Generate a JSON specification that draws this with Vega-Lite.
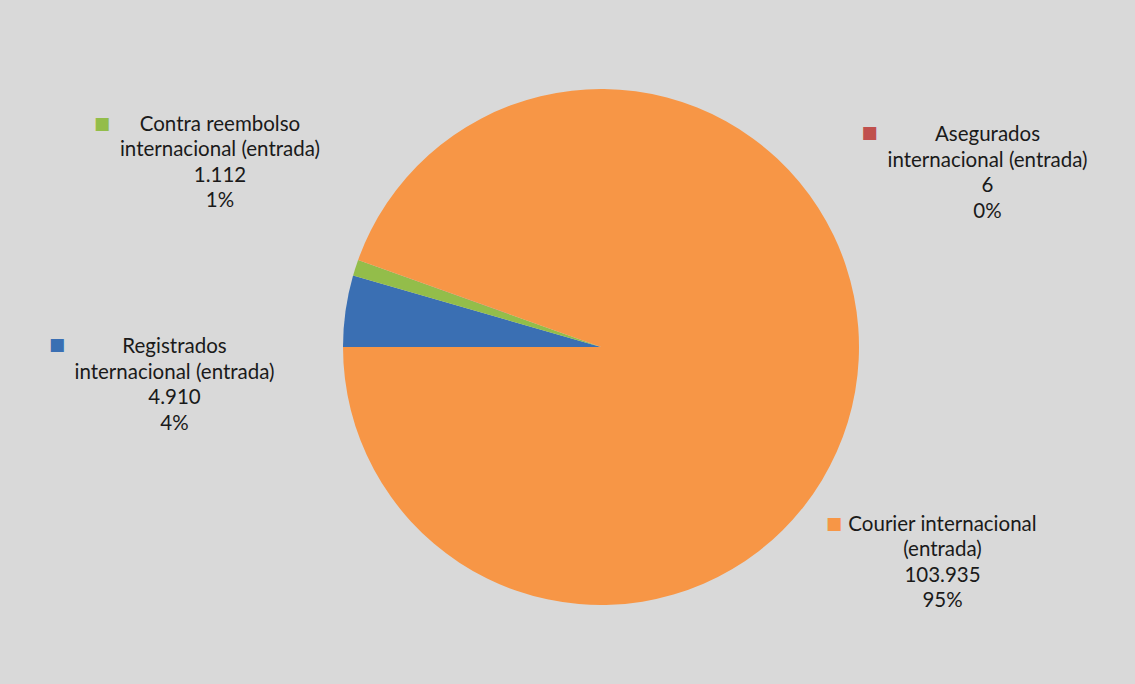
{
  "$schema": "https://vega.github.io/schema/vega-lite/v6.json",
  "width": 1135,
  "height": 684,
  "autosize": {"type": "fit", "contains": "padding"},
  "padding": {"left": 67, "top": 10, "right": 0, "bottom": 0},
  "background": "#d9d9d9",
  "config": {"view": {"stroke": null}},
  "data": {
    "values": [
      {"serie": "Registrados internacional (entrada)", "valor": 4910, "orden": 1, "etiqueta": "Registrados\ninternacional (entrada)\n4.910\n4%"},
      {"serie": "Contra reembolso internacional (entrada)", "valor": 1112, "orden": 2, "etiqueta": "Contra reembolso\ninternacional (entrada)\n1.112\n1%"},
      {"serie": "Asegurados internacional (entrada)", "valor": 6, "orden": 3, "etiqueta": "Asegurados\ninternacional (entrada)\n6\n0%"},
      {"serie": "Courier internacional (entrada)", "valor": 103935, "orden": 4, "etiqueta": "Courier internacional\n(entrada)\n103.935\n95%"}
    ]
  },
  "resolve": {"scale": {"theta": "independent", "radius": "independent"}},
  "layer": [
    {
      "mark": {"type": "arc", "outerRadius": 258},
      "encoding": {
        "theta": {"field": "valor", "type": "quantitative", "stack": true, "scale": {"range": [4.71238898, 10.99557429]}},
        "order": {"field": "orden", "type": "quantitative", "sort": "ascending"},
        "color": {
          "field": "serie",
          "type": "nominal",
          "scale": {
            "domain": ["Registrados internacional (entrada)", "Contra reembolso internacional (entrada)", "Asegurados internacional (entrada)", "Courier internacional (entrada)"],
            "range": ["#3a6fb3", "#93bd4a", "#c0504d", "#f79646"]
          },
          "legend": null
        }
      }
    },
    {
      "transform": [
        {"calculate": "(datum.orden == 1 ? 270.0 : datum.orden == 2 ? 300.23 : datum.orden == 3 ? 61.26 : 117.53) * PI / 180", "as": "angEtiqueta"},
        {"calculate": "datum.orden == 1 ? 426.5 : datum.orden == 2 ? 441.0 : datum.orden == 3 ? 440.8 : 385.1", "as": "radEtiqueta"}
      ],
      "mark": {"type": "text", "lineBreak": "\n", "font": "Lato", "fontSize": 20.5, "lineHeight": 25.5, "align": "center", "baseline": "middle", "color": "#1a1a1a"},
      "encoding": {
        "theta": {"field": "angEtiqueta", "type": "quantitative", "scale": null, "stack": null},
        "radius": {"field": "radEtiqueta", "type": "quantitative", "scale": null},
        "text": {"field": "etiqueta", "type": "nominal"}
      }
    },
    {
      "transform": [
        {"calculate": "(datum.orden == 1 ? 270.16 : datum.orden == 2 ? 294.03 : datum.orden == 3 ? 51.45 : 127.15) * PI / 180", "as": "angClave"},
        {"calculate": "datum.orden == 1 ? 544.0 : datum.orden == 2 ? 546.4 : datum.orden == 3 ? 343.3 : 292.3", "as": "radClave"}
      ],
      "mark": {"type": "text", "text": "■", "font": "DejaVu Sans", "fontSize": 17, "align": "center", "baseline": "middle"},
      "encoding": {
        "theta": {"field": "angClave", "type": "quantitative", "scale": null, "stack": null},
        "radius": {"field": "radClave", "type": "quantitative", "scale": null},
        "color": {"field": "serie", "type": "nominal", "legend": null}
      }
    }
  ]
}
